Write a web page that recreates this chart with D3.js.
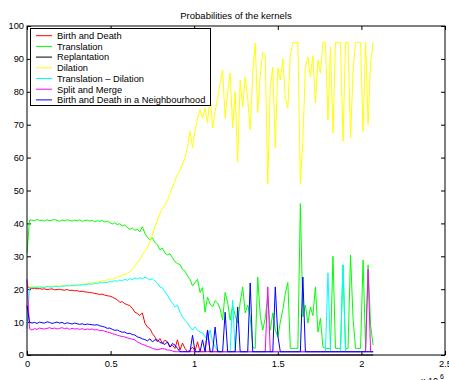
<!DOCTYPE html>
<html>
<head>
<meta charset="utf-8">
<script src="https://cdn.jsdelivr.net/npm/d3@7"></script>
<style>
  body { margin: 0; background: #fff; }
  svg { display: block; }
  text { font-family: "Liberation Sans", Arial, Helvetica, sans-serif; fill: #000; }
</style>
</head>
<body>
<svg id="chart" width="449" height="380"></svg>
<script>
// Iterations between two recorded samples
const iterStep = 15000;

// Kernel names, in plotting order
const kernels = [
  "Birth and Death",
  "Translation",
  "Replantation",
  "Dilation",
  "Translation \u2013 Dilation",
  "Split and Merge",
  "Birth and Death in a Neighbourhood"
];
const kernelColors = ["#ff0000", "#00ff00", "#000000", "#ffff00", "#00ffff", "#ff00ff", "#0000ff"];

// Probabilities (%) of each kernel at every recorded sample
const birthDeath = [
  21, 20.4, 20.2, 20.3, 20.1, 20.2, 20, 20.1, 19.9, 20,
  20.1, 19.8, 19.9, 20, 19.8, 19.7, 19.9, 19.6, 19.7, 19.5,
  19.6, 19.3, 19.4, 19.2, 19.1, 19, 18.9, 18.7, 18.6, 18.4,
  18.5, 18.2, 18, 17.9, 17.6, 17.2, 16.8, 16, 16.2, 15.6,
  15.3, 15, 14.2, 13, 12.6, 12, 12.8, 9.7, 8.5, 8,
  6.5, 5.5, 4, 5, 3.5, 4.5, 4, 2.5, 3, 2,
  4.6, 1.5, 3.6, 2, 1, 1.5, 2.4, 1.2, 4, 1,
  1, 1, 1, 1, 1, 1, 1, 1, 1, 1,
  1, 1, 1, 1, 1, 1, 1, 1, 1, 1,
  1, 1, 1, 1, 1, 1, 1, 1, 1, 1,
  1, 1, 1, 1, 1, 1, 1, 1, 1, 1,
  1, 1, 1, 1, 1, 1, 1, 1, 1, 1,
  1, 1, 1, 1, 1, 1, 1, 1, 1, 1,
  1, 1, 1, 1, 1, 1, 1, 1, 1
];

const translation = [
  31, 41, 41, 40.8, 41.2, 40.9, 41, 40.7, 41.1, 40.8,
  41, 41.2, 40.9, 40.6, 41, 40.8, 41.1, 40.9, 40.7, 41,
  40.8, 41.1, 40.6, 40.9, 41, 40.7, 40.9, 40.5, 40.8, 40.6,
  40.9, 40.4, 40.7, 40.3, 39.8, 40.2, 39.6, 39.9, 39.3, 39.5,
  38.8, 38.2, 38.6, 37.9, 38.2, 37.4, 39, 37, 35.8, 35,
  35.6, 34.2, 33.5, 32, 32.5, 31, 30.4, 30.8, 29.5, 28.3,
  27.8, 27.5, 26, 25.5, 24, 23, 21, 22, 23, 19,
  20.5, 13, 17.6, 15.5, 14.6, 16.5, 15.8, 14, 10.6, 19,
  16, 10.6, 15, 12, 9.7, 16, 20.7, 12.8, 15.2, 11.6,
  2.4, 2, 23.7, 12, 7.6, 11.2, 18, 7.6, 12.8, 7.6,
  5.5, 10, 13.7, 18.8, 22, 2, 2, 2, 2, 46,
  11.6, 15.2, 9.7, 14.6, 12, 20.7, 7, 11.2, 2.4, 2,
  2, 2, 30, 2, 2, 2, 27.4, 2, 2, 30.4,
  11.2, 2, 2, 2, 28.9, 2, 27.4, 9, 3
];

const replantation = [
  0, 0, 0, 0, 0, 0, 0, 0, 0, 0,
  0, 0, 0, 0, 0, 0, 0, 0, 0, 0,
  0, 0, 0, 0, 0, 0, 0, 0, 0, 0,
  0, 0, 0, 0, 0, 0, 0, 0, 0, 0,
  0, 0, 0, 0, 0, 0, 0, 0, 0, 0,
  0, 0, 0, 0, 0, 0, 0, 0, 0, 0,
  0, 0, 0, 0, 0, 0, 0, 0, 0, 0,
  0, 0, 0, 0, 0, 0, 0, 0, 0, 0,
  0, 0, 0, 0, 0, 0, 0, 0, 0, 0,
  0, 0, 0, 0, 0, 0, 0, 0, 0, 0,
  0, 0, 0, 0, 0, 0, 0, 0, 0, 0,
  0, 0, 0, 0, 0, 0, 0, 0, 0, 0,
  0, 0, 0, 0, 0, 0, 0, 0, 0, 0,
  0, 0, 0, 0, 0, 0, 0, 0, 0
];

const dilation = [
  22, 21, 20.8, 20.6, 20.9, 20.7, 20.6, 20.8, 20.9, 20.7,
  21, 20.8, 21.1, 20.9, 21, 21.2, 21, 21.3, 21.1, 21.4,
  21.2, 21.5, 21.4, 21.7, 21.6, 21.8, 22, 21.9, 22.3, 22.2,
  22.6, 22.5, 22.9, 23.2, 23, 23.3, 23.6, 23.8, 24.2, 24.5,
  24.8, 25.2, 26, 27, 28, 29, 30.5, 31.5, 32.5, 34.5,
  36.5, 39, 41, 43, 44.5, 45.5, 47, 49, 51, 53,
  55, 56, 58, 60, 63, 68, 63, 68, 72, 74.5,
  72, 75, 70.5, 79.6, 69, 74, 78, 82.7, 86.6, 72,
  80, 85.7, 69, 80, 58.7, 83.6, 75.4, 84.5, 78, 68.4,
  85.7, 94.8, 73.6, 85, 92, 91, 52, 81.5, 87.5, 63,
  87.2, 83.6, 90, 78, 75, 91, 95, 95, 95, 52,
  65, 87.5, 90.6, 84.5, 91, 76.6, 89.7, 85.7, 95, 95,
  71.4, 93.6, 67.5, 95, 95, 95, 65, 95, 95, 66,
  86, 95, 95, 95, 68, 95, 70, 88.7, 95
];

const translationDilation = [
  8, 20.5, 20.4, 20.6, 20.5, 20.7, 20.6, 20.5, 20.8, 20.7,
  20.6, 20.9, 20.8, 20.7, 21, 20.9, 21.1, 21, 21.2, 21.1,
  21.3, 21.2, 21.4, 21.3, 21.5, 21.6, 21.5, 21.8, 21.7, 22,
  21.9, 22.1, 22, 22.3, 22.2, 22.6, 22.4, 22.8, 22.5, 23,
  22.7, 23.2, 22.9, 23.4, 23.1, 23.5, 23.2, 23.6, 23.3, 22.8,
  23.2, 22.5, 21.9, 20.7, 20.4, 19.2, 18.2, 16.7, 15.8, 14.6,
  15.2, 13, 11.6, 10.5, 9.7, 8.5, 7.6, 8.5, 7.5, 7,
  6.7, 5.5, 4.6, 7.6, 4, 2.4, 1.5, 1, 1, 1,
  1, 1, 16.7, 1, 1, 1, 1, 1, 1, 1,
  1, 1, 1, 1, 1, 1, 1, 1, 1, 1,
  1, 1, 1, 1, 1, 1, 1, 1, 1, 1,
  1, 1, 1, 1, 1, 1, 1, 1, 1, 1,
  25, 1, 1, 1, 1, 1, 27.4, 1, 1, 1,
  1, 1, 1, 1, 1, 1, 1, 1, 1
];

const splitMerge = [
  23, 8, 7.6, 8, 7.8, 8.2, 8, 7.9, 8.1, 8.3,
  8, 8.2, 7.9, 8.1, 8.3, 8, 8.2, 7.8, 8.1, 7.9,
  8, 7.8, 8, 7.7, 7.9, 7.8, 7.9, 7.6, 7.7, 7.4,
  7.5, 7.2, 7, 6.8, 6.5, 6.3, 6, 5.8, 5.6, 5.5,
  5.2, 5, 4.8, 4.6, 4, 3.6, 3.2, 3, 2.6, 2.4,
  2, 1.8, 1.6, 1.8, 2, 1.8, 1.5, 1.5, 1.2, 1,
  1, 1, 1, 1, 1, 1, 1, 1, 1, 1,
  1, 1, 7.6, 1, 1, 1, 1, 1, 1, 1,
  1, 1, 1, 1, 1, 1, 1, 1, 1, 1,
  1, 1, 1, 1, 1, 1, 20.7, 1, 1, 1,
  1, 1, 1, 1, 1, 1, 1, 1, 1, 1,
  1, 1, 1, 1, 1, 1, 1, 1, 1, 1,
  1, 1, 1, 1, 1, 1, 1, 1, 1, 1,
  1, 1, 1, 1, 1, 1, 26, 1, 1
];

const birthDeathNeighbourhood = [
  15, 10, 9.7, 9.9, 9.6, 10, 9.8, 9.7, 10.1, 9.9,
  9.6, 9.8, 10, 9.7, 9.9, 9.5, 9.8, 9.6, 9.4, 9.7,
  9.5, 9.3, 9.5, 9.2, 9.4, 9.3, 9.2, 9.1, 9.2, 8.9,
  8.7, 8.5, 8.1, 8.2, 7.8, 7.5, 7.6, 7.2, 6.9, 7,
  6.5, 6.6, 6.2, 6.1, 5.5, 5.3, 4.9, 4.7, 4.3, 4.9,
  4, 4.6, 4.6, 3.8, 3.6, 3.2, 4, 2.4, 3.5, 3,
  2, 1, 1, 1, 1, 1, 6, 1, 1, 1,
  4.6, 1, 7.6, 1, 1, 8.5, 1, 1, 1, 13,
  1, 1, 1, 1, 14.6, 1, 1, 1, 1, 21.9,
  1, 1, 1, 1, 1, 1, 1, 1, 1, 20.7,
  6, 1, 1, 1, 1, 1, 1, 1, 1, 1,
  23.7, 1, 1, 1, 1, 1, 1, 1, 1, 1,
  1, 1, 1, 1, 1, 1, 1, 1, 1, 1,
  1, 1, 1, 1, 1, 1, 1, 1, 1
];

const seriesValues = [
  birthDeath, translation, replantation, dilation,
  translationDilation, splitMerge, birthDeathNeighbourhood
];

// Axis ticks
const xTicks = [0, 0.5e6, 1e6, 1.5e6, 2e6, 2.5e6];
const xTickLabels = ["0", "0.5", "1", "1.5", "2", "2.5"];
const yTicks = [0, 10, 20, 30, 40, 50, 60, 70, 80, 90, 100];

const svg = d3.select("#chart");
const plot = { left: 27, right: 445, top: 26, bottom: 355 };

const x = d3.scaleLinear().domain([0, 2.5e6]).range([plot.left, plot.right]);
const y = d3.scaleLinear().domain([0, 100]).range([plot.bottom, plot.top]);

const fontSize = 9.3;

// Axes: ticks point inwards on all four sides, labels only on bottom and left
function styleAxis(g) {
  g.selectAll("path.domain").remove();
  g.selectAll(".tick line").attr("stroke", "#000").attr("stroke-width", 1);
  g.selectAll(".tick text").attr("fill", "#000").style("font-size", fontSize + "px")
    .style("font-family", '"Liberation Sans", Arial, Helvetica, sans-serif');
}

svg.append("g")
  .attr("transform", `translate(0,${plot.bottom})`)
  .call(d3.axisBottom(x).tickValues(xTicks)
    .tickFormat((d, i) => xTickLabels[i])
    .tickSizeInner(-4).tickSizeOuter(0).tickPadding(5))
  .call(styleAxis);

svg.append("g")
  .attr("transform", `translate(0,${plot.top})`)
  .call(d3.axisTop(x).tickValues(xTicks).tickFormat("")
    .tickSizeInner(-4).tickSizeOuter(0))
  .call(styleAxis);

svg.append("g")
  .attr("transform", `translate(${plot.left},0)`)
  .call(d3.axisLeft(y).tickValues(yTicks).tickFormat(d3.format("d"))
    .tickSizeInner(-4).tickSizeOuter(0).tickPadding(3))
  .call(styleAxis);

svg.append("g")
  .attr("transform", `translate(${plot.right},0)`)
  .call(d3.axisRight(y).tickValues(yTicks).tickFormat("")
    .tickSizeInner(-4).tickSizeOuter(0))
  .call(styleAxis);

// Data lines
const line = d3.line()
  .x((d, i) => x(i * iterStep))
  .y(d => y(d));

svg.append("g")
  .selectAll("path")
  .data(seriesValues)
  .join("path")
  .attr("d", d => line(d))
  .attr("fill", "none")
  .attr("stroke", (d, i) => kernelColors[i])
  .attr("stroke-width", 1)
  .attr("stroke-linejoin", "round");

// Axes box
svg.append("rect")
  .attr("x", plot.left).attr("y", plot.top)
  .attr("width", plot.right - plot.left).attr("height", plot.bottom - plot.top)
  .attr("fill", "none").attr("stroke", "#000").attr("stroke-width", 1);

// Title
svg.append("text")
  .attr("x", (plot.left + plot.right) / 2).attr("y", 18.5)
  .attr("text-anchor", "middle")
  .style("font-size", "9.5px")
  .text("Probabilities of the kernels");

// Exponent label of the x axis
const expo = svg.append("g");
expo.append("text").attr("x", 421).attr("y", 384).style("font-size", "9px").text("x 10");
expo.append("text").attr("x", 440).attr("y", 378.5).style("font-size", "7px").text("6");

// Legend
const legend = svg.append("g");
legend.append("rect")
  .attr("x", 30.5).attr("y", 28.5).attr("width", 180).attr("height", 77)
  .attr("fill", "#fff").attr("stroke", "#000").attr("stroke-width", 1);

const rowH = 10.7;
const rows = legend.selectAll("g.row")
  .data(kernels)
  .join("g")
  .attr("class", "row")
  .attr("transform", (d, i) => `translate(0,${35.7 + i * rowH})`);

rows.append("line")
  .attr("x1", 36).attr("x2", 52).attr("y1", 0).attr("y2", 0)
  .attr("stroke", (d, i) => kernelColors[i]).attr("stroke-width", 1);

rows.append("text")
  .attr("x", 57).attr("y", 3.3)
  .style("font-size", fontSize + "px")
  .text(d => d);
</script>
</body>
</html>
